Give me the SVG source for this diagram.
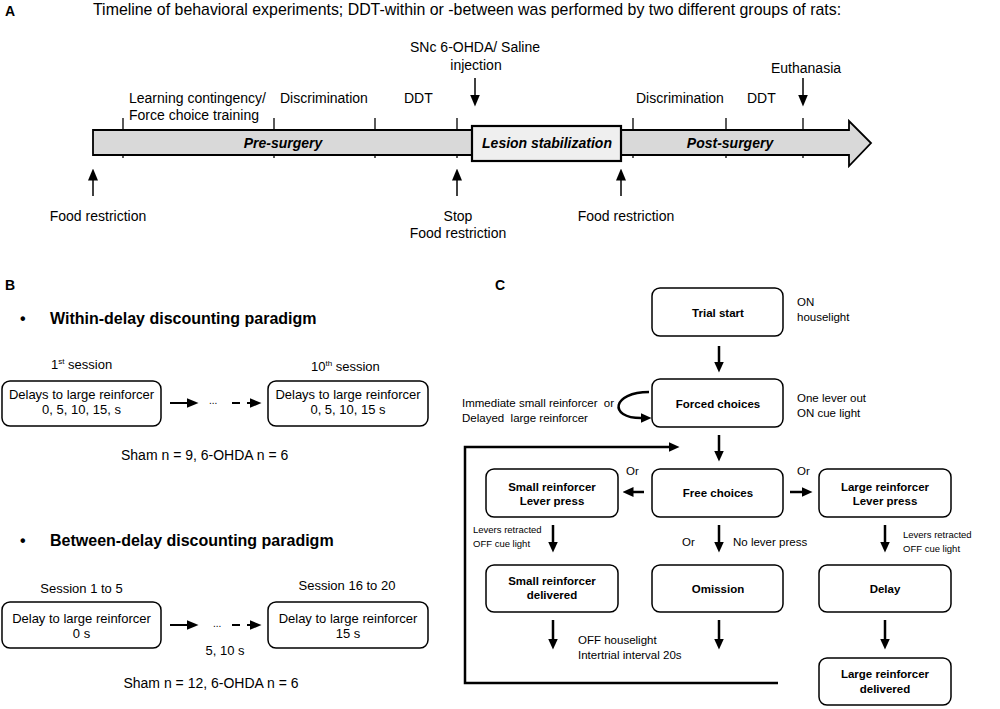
<svg xmlns="http://www.w3.org/2000/svg" width="1000" height="709" viewBox="0 0 1000 709">
<defs>
<style>
text{font-family:"Liberation Sans",Arial,sans-serif;fill:#000}
.t14{font-size:14px}
.t13{font-size:13px}
.t115{font-size:11.5px}
.t95{font-size:9.5px}
.bi{font-size:14px;font-weight:bold;font-style:italic}
.b{font-weight:bold}
.c{text-anchor:middle}
.lbl{font-size:14px;font-weight:bold}
.h{font-size:16px;font-weight:bold}
.box{fill:#fff;stroke:#000;stroke-width:1.5}
.thin{stroke:#000;stroke-width:1.5;fill:none}
.thick{stroke:#000;stroke-width:2.5;fill:none}
.tick{stroke:#000;stroke-width:1.3}
</style>
<marker id="ha" viewBox="0 0 12 10" refX="0.5" refY="5" markerWidth="12" markerHeight="10" markerUnits="userSpaceOnUse" orient="auto"><path d="M0,0 L12,5 L0,10 Z"/></marker>
<marker id="hc" viewBox="0 0 11 10" refX="0.5" refY="5" markerWidth="11" markerHeight="10" markerUnits="userSpaceOnUse" orient="auto"><path d="M0,0 L11,5 L0,10 Z"/></marker>
<marker id="hb" viewBox="0 0 12 10" refX="0.5" refY="5" markerWidth="12" markerHeight="10" markerUnits="userSpaceOnUse" orient="auto"><path d="M0,0 L12,5 L0,10 Z"/></marker>
</defs>

<!-- Panel A -->
<text x="5" y="16" class="lbl">A</text>
<text x="93" y="15" style="font-size:15.9px">Timeline of behavioral experiments; DDT-within or -between was performed by two different groups of rats:</text>

<g id="ticks">
<line class="tick" x1="123" y1="118" x2="123" y2="158"/>
<line class="tick" x1="274" y1="118" x2="274" y2="158"/>
<line class="tick" x1="375" y1="118" x2="375" y2="158"/>
<line class="tick" x1="457" y1="118" x2="457" y2="158"/>
<line class="tick" x1="633" y1="118" x2="633" y2="158"/>
<line class="tick" x1="726" y1="118" x2="726" y2="158"/>
<line class="tick" x1="803" y1="118" x2="803" y2="158"/>
</g>
<g id="timeline">
<path d="M93,130 H849 V121 L871,143 L849,166 V155 H93 Z" fill="#d9d9d9" stroke="#000" stroke-width="1.8"/>
<text x="283" y="148" class="bi c">Pre-surgery</text>
<text x="730" y="148" class="bi c">Post-surgery</text>
</g>
<g id="lesion">
<rect x="472" y="126" width="149" height="35" fill="#efefef" stroke="#000" stroke-width="2.2"/>
<text x="547" y="148" class="bi c">Lesion stabilization</text>
</g>
<g id="phase-labels">
<text x="129" y="103" class="t14">Learning contingency/</text>
<text x="129" y="120" class="t14">Force choice training</text>
<text x="280" y="103" class="t14">Discrimination</text>
<text x="404" y="103" class="t14">DDT</text>
<text x="636" y="103" class="t14">Discrimination</text>
<text x="747" y="103" class="t14">DDT</text>
</g>
<g id="events">
<text x="475" y="52" class="t14 c">SNc 6-OHDA/ Saline</text>
<text x="476" y="70" class="t14 c">injection</text>
<text x="806" y="73" class="t14 c">Euthanasia</text>
<text x="98" y="221" class="t14 c">Food restriction</text>
<text x="458" y="221" class="t14 c">Stop</text>
<text x="458" y="238" class="t14 c">Food restriction</text>
<text x="626" y="221" class="t14 c">Food restriction</text>
</g>
<g id="a-arrows">
<line class="thin" x1="475" y1="78" x2="475" y2="95" marker-end="url(#ha)"/>
<line class="thin" x1="803" y1="78" x2="803" y2="95" marker-end="url(#ha)"/>
<line class="thin" x1="93" y1="196" x2="93" y2="180" marker-end="url(#ha)"/>
<line class="thin" x1="457" y1="196" x2="457" y2="180" marker-end="url(#ha)"/>
<line class="thin" x1="621" y1="196" x2="621" y2="180" marker-end="url(#ha)"/>
</g>

<!-- Panel B -->
<text x="5" y="290" class="lbl">B</text>
<text x="20" y="324" class="h">•</text>
<text x="50" y="324" class="h">Within-delay discounting paradigm</text>
<text x="51" y="369" class="t13">1<tspan dy="-5" style="font-size:8px">st</tspan><tspan dy="5"> session</tspan></text>
<text x="311" y="371" class="t13">10<tspan dy="-5" style="font-size:8px">th</tspan><tspan dy="5"> session</tspan></text>
<g id="b-within-1">
<rect class="box" x="2" y="381" width="159" height="45" rx="8"/>
<text x="81.5" y="399" class="t13 c">Delays to large reinforcer</text>
<text x="81.5" y="414" class="t13 c">0, 5, 10, 15, s</text>
</g>
<g id="b-within-10">
<rect class="box" x="268" y="381" width="160" height="45" rx="8"/>
<text x="348" y="399" class="t13 c">Delays to large reinforcer</text>
<text x="348" y="414" class="t13 c">0, 5, 10, 15 s</text>
</g>
<text x="209" y="404" style="font-size:10px">...</text>
<text x="121" y="460" class="t14">Sham n = 9, 6-OHDA n = 6</text>

<text x="20" y="546" class="h">•</text>
<text x="50" y="546" class="h">Between-delay discounting paradigm</text>
<text x="81.5" y="593" class="t13 c">Session 1 to 5</text>
<text x="347" y="590" class="t13 c">Session 16 to 20</text>
<g id="b-between-1">
<rect class="box" x="2" y="602" width="159" height="46" rx="8"/>
<text x="81.5" y="623" class="t13 c">Delay to large reinforcer</text>
<text x="81.5" y="638" class="t13 c">0 s</text>
</g>
<g id="b-between-16">
<rect class="box" x="268" y="602" width="160" height="46" rx="8"/>
<text x="348" y="623" class="t13 c">Delay to large reinforcer</text>
<text x="348" y="638" class="t13 c">15 s</text>
</g>
<text x="213" y="627" style="font-size:10px">...</text>
<text x="225" y="655" class="t13 c">5, 10 s</text>
<text x="211" y="688" class="t14 c">Sham n = 12, 6-OHDA n = 6</text>

<g id="b-connectors">
<line x1="170" y1="403" x2="187" y2="403" stroke="#000" stroke-width="2" marker-end="url(#hb)"/>
<line x1="232" y1="403" x2="250" y2="403" stroke="#000" stroke-width="2" stroke-dasharray="8,7" marker-end="url(#hb)"/>
<line x1="170" y1="625" x2="187" y2="625" stroke="#000" stroke-width="2" marker-end="url(#hb)"/>
<line x1="232" y1="625" x2="250" y2="625" stroke="#000" stroke-width="2" stroke-dasharray="8,7" marker-end="url(#hb)"/>
</g>

<!-- Panel C -->
<text x="495" y="290" class="lbl">C</text>
<g id="c-trial-start">
<rect class="box" x="652" y="288" width="131" height="48" rx="8"/>
<text x="718" y="317" class="t115 b c">Trial start</text>
</g>
<text x="797" y="306" class="t115">ON</text>
<text x="797" y="321" class="t115">houselight</text>
<g id="c-forced">
<rect class="box" x="652" y="379" width="131" height="48" rx="8"/>
<text x="718" y="408" class="t115 b c">Forced choices</text>
</g>
<text x="797" y="402" class="t115">One lever out</text>
<text x="797" y="417" class="t115">ON cue light</text>
<text x="462" y="407" class="t115" style="white-space:pre">Immediate small reinforcer  or</text>
<text x="462" y="422" class="t115" style="white-space:pre">Delayed  large reinforcer</text>
<g id="c-free">
<rect class="box" x="652" y="469" width="131" height="48" rx="8"/>
<text x="718" y="497" class="t115 b c">Free choices</text>
</g>
<g id="c-small-press">
<rect class="box" x="486" y="469" width="132" height="48" rx="8"/>
<text x="552" y="491" class="t115 b c">Small reinforcer</text>
<text x="552" y="505" class="t115 b c">Lever press</text>
</g>
<g id="c-large-press">
<rect class="box" x="819" y="469" width="132" height="48" rx="8"/>
<text x="885" y="491" class="t115 b c">Large reinforcer</text>
<text x="885" y="505" class="t115 b c">Lever press</text>
</g>
<text x="626" y="475" class="t115">Or</text>
<text x="797" y="475" class="t115">Or</text>
<text x="473" y="533" class="t95">Levers retracted</text>
<text x="473" y="547" class="t95">OFF cue light</text>
<text x="682" y="546" class="t115">Or</text>
<text x="733" y="546" class="t115">No lever press</text>
<text x="903" y="538" class="t95">Levers retracted</text>
<text x="903" y="552" class="t95">OFF cue light</text>
<g id="c-small-delivered">
<rect class="box" x="486" y="565" width="132" height="47" rx="8"/>
<text x="552" y="585" class="t115 b c">Small reinforcer</text>
<text x="552" y="599" class="t115 b c">delivered</text>
</g>
<g id="c-omission">
<rect class="box" x="652" y="565" width="131" height="47" rx="8"/>
<text x="718" y="593" class="t115 b c">Omission</text>
</g>
<g id="c-delay">
<rect class="box" x="819" y="565" width="132" height="47" rx="8"/>
<text x="885" y="593" class="t115 b c">Delay</text>
</g>
<text x="578" y="644" class="t115">OFF houselight</text>
<text x="578" y="659" class="t115">Intertrial interval 20s</text>
<g id="c-large-delivered">
<rect class="box" x="819" y="658" width="132" height="47" rx="8"/>
<text x="885" y="678" class="t115 b c">Large reinforcer</text>
<text x="885" y="693" class="t115 b c">delivered</text>
</g>

<g id="c-connectors">
<line class="thick" x1="719" y1="346" x2="719" y2="362" marker-end="url(#hc)"/>
<line class="thick" x1="719" y1="435" x2="719" y2="451" marker-end="url(#hc)"/>
<path class="thick" d="M649,392 C612,392 608,418 641,418" stroke-width="3" marker-end="url(#hc)"/>
<polyline class="thick" points="778,683 465,683 465,447 669,447" marker-end="url(#hc)"/>
<line class="thick" x1="644" y1="492" x2="633" y2="492" marker-end="url(#hc)"/>
<line class="thick" x1="790" y1="492" x2="802" y2="492" marker-end="url(#hc)"/>
<line class="thick" x1="553" y1="525" x2="553" y2="542" marker-end="url(#hc)"/>
<line class="thick" x1="719" y1="525" x2="719" y2="542" marker-end="url(#hc)"/>
<line class="thick" x1="885" y1="525" x2="885" y2="542" marker-end="url(#hc)"/>
<line class="thick" x1="553" y1="620" x2="553" y2="639" marker-end="url(#hc)"/>
<line class="thick" x1="719" y1="620" x2="719" y2="639" marker-end="url(#hc)"/>
<line class="thick" x1="885" y1="620" x2="885" y2="639" marker-end="url(#hc)"/>
</g>
</svg>
